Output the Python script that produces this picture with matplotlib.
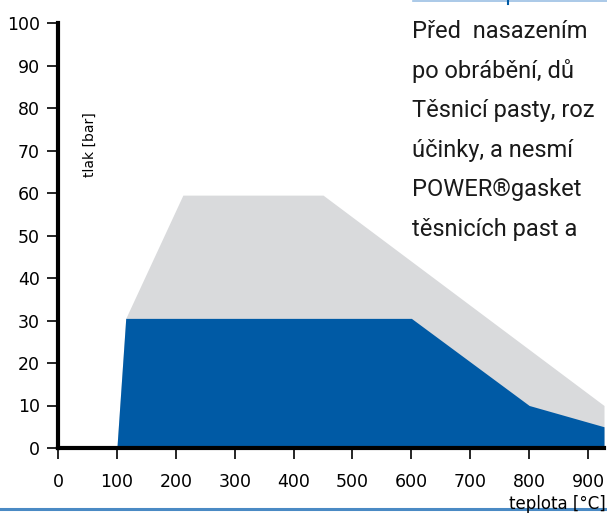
import matplotlib.pyplot as plt
from matplotlib.lines import Line2D

# teplota [°C] / tlak [bar]
blue_x = [100, 115, 600, 800, 927]
blue_y = [0, 30.5, 30.5, 10, 5]
gray_x = [100, 115, 212, 450, 927]
gray_y = [0, 30.5, 59.5, 59.5, 10]

xticks = [0, 100, 200, 300, 400, 500, 600, 700, 800, 900]
yticks = [0, 10, 20, 30, 40, 50, 60, 70, 80, 90, 100]

text_lines = ["Před  nasazením", "po obrábění, dů", "Těsnicí pasty, roz",
              "účinky, a nesmí", "POWER®gasket", "těsnicích past a"]

fig = plt.figure(figsize=(6.07, 5.14), dpi=100)
ax = fig.add_axes([58 / 607, 66 / 514, 546 / 607, 425 / 514])

ax.fill_between(gray_x, gray_y, color='#d9dadc', lw=0)
ax.fill_between(blue_x, blue_y, color='#005aa5', lw=0)

ax.set_xlim(0, 927)
ax.set_ylim(0, 100)
ax.set_xticks(xticks)
ax.set_yticks(yticks)
ax.spines['top'].set_visible(False)
ax.spines['right'].set_visible(False)
ax.spines['left'].set_linewidth(3)
ax.spines['bottom'].set_linewidth(3)
ax.tick_params(length=8, width=1.2, labelsize=12.5, pad=5)
ax.tick_params(axis='x', pad=10)

ax.text(0.059, 0.713, "tlak [bar]", transform=ax.transAxes, rotation=90,
        ha='center', va='center', fontsize=10)

fig.text(0.998, 1 / 514, "teplota [°C]", ha='right', va='bottom', fontsize=12)

# decorative lines of the page
fig.add_artist(Line2D([0, 1], [5 / 514, 5 / 514], color='#4a8ac4', lw=2.2))
fig.add_artist(Line2D([413 / 607, 1], [1 - 1 / 514, 1 - 1 / 514], color='#9cc0e4', lw=1.2))
fig.add_artist(Line2D([508 / 607, 508 / 607], [1 - 4 / 514, 1], color='#005aa5', lw=1.5))

for i, line in enumerate(text_lines):
    fig.text(412 / 607, 1 - (38 + 39.6 * i) / 514, line, ha='left', va='baseline',
             fontsize=17, family=['Roboto', 'DejaVu Sans'], color='#1a1a1a')

fig.savefig("out.png", dpi=100)
